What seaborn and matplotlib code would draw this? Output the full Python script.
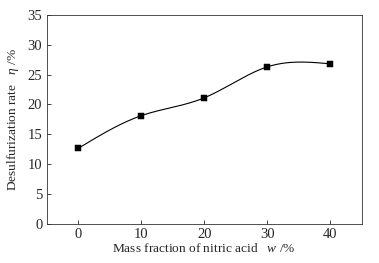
import numpy as np
import matplotlib
matplotlib.use("Agg")
import matplotlib.pyplot as plt
import seaborn as sns

# data
mass_fraction = [0, 10, 20, 30, 40]
desulf_rate = [12.6, 18.1, 21.1, 26.3, 26.8]
x_ticks = [0, 10, 20, 30, 40]
y_ticks = [0, 5, 10, 15, 20, 25, 30, 35]


def natural_spline(x, y, n=200):
    """Natural cubic spline through the points, for the smooth line only."""
    x = np.asarray(x, float)
    y = np.asarray(y, float)
    k = len(x)
    h = np.diff(x)
    A = np.zeros((k, k))
    b = np.zeros(k)
    A[0, 0] = A[-1, -1] = 1
    for i in range(1, k - 1):
        A[i, i - 1] = h[i - 1]
        A[i, i] = 2 * (h[i - 1] + h[i])
        A[i, i + 1] = h[i]
        b[i] = 6 * ((y[i + 1] - y[i]) / h[i] - (y[i] - y[i - 1]) / h[i - 1])
    M = np.linalg.solve(A, b)
    xs = np.linspace(x[0], x[-1], n)
    idx = np.clip(np.searchsorted(x, xs) - 1, 0, k - 2)
    x0, x1 = x[idx], x[idx + 1]
    hh = x1 - x0
    ys = (M[idx] * (x1 - xs) ** 3 / (6 * hh) + M[idx + 1] * (xs - x0) ** 3 / (6 * hh)
          + (y[idx] / hh - M[idx] * hh / 6) * (x1 - xs)
          + (y[idx + 1] / hh - M[idx + 1] * hh / 6) * (xs - x0))
    return xs, ys


sns.set_style("ticks")
plt.rcParams["font.family"] = ["Liberation Serif", "DejaVu Serif"]
plt.rcParams["mathtext.fontset"] = "custom"
plt.rcParams["mathtext.it"] = "Liberation Serif:italic"
plt.rcParams["mathtext.rm"] = "Liberation Serif"

fig = plt.figure(figsize=(3.79, 2.63), dpi=100)
ax = fig.add_axes([0.1227, 0.150, 0.8325, 0.793])

xs, ys = natural_spline(mass_fraction, desulf_rate)
sns.lineplot(x=xs, y=ys, ax=ax, color="black", linewidth=0.8)
sns.scatterplot(x=mass_fraction, y=desulf_rate, ax=ax, marker="s", s=18,
                color="black", edgecolor="black", zorder=3)

ax.set_xlim(-5, 45)
ax.set_ylim(0, 35)
ax.set_xticks(x_ticks)
ax.set_yticks(y_ticks)
ax.tick_params(direction="in", length=3, width=0.6, labelsize=10.5, pad=3)
for s in ax.spines.values():
    s.set_linewidth(0.6)
    s.set_color("#333333")

ax.set_xlabel(r"Mass fraction of nitric acid   $\it{w}$ /%", fontsize=9.6, labelpad=1)
ax.set_ylabel(r"Desulfurization rate   $\it{\eta}$ /%", fontsize=9.6, labelpad=5)

fig.savefig("out.png", dpi=100)
